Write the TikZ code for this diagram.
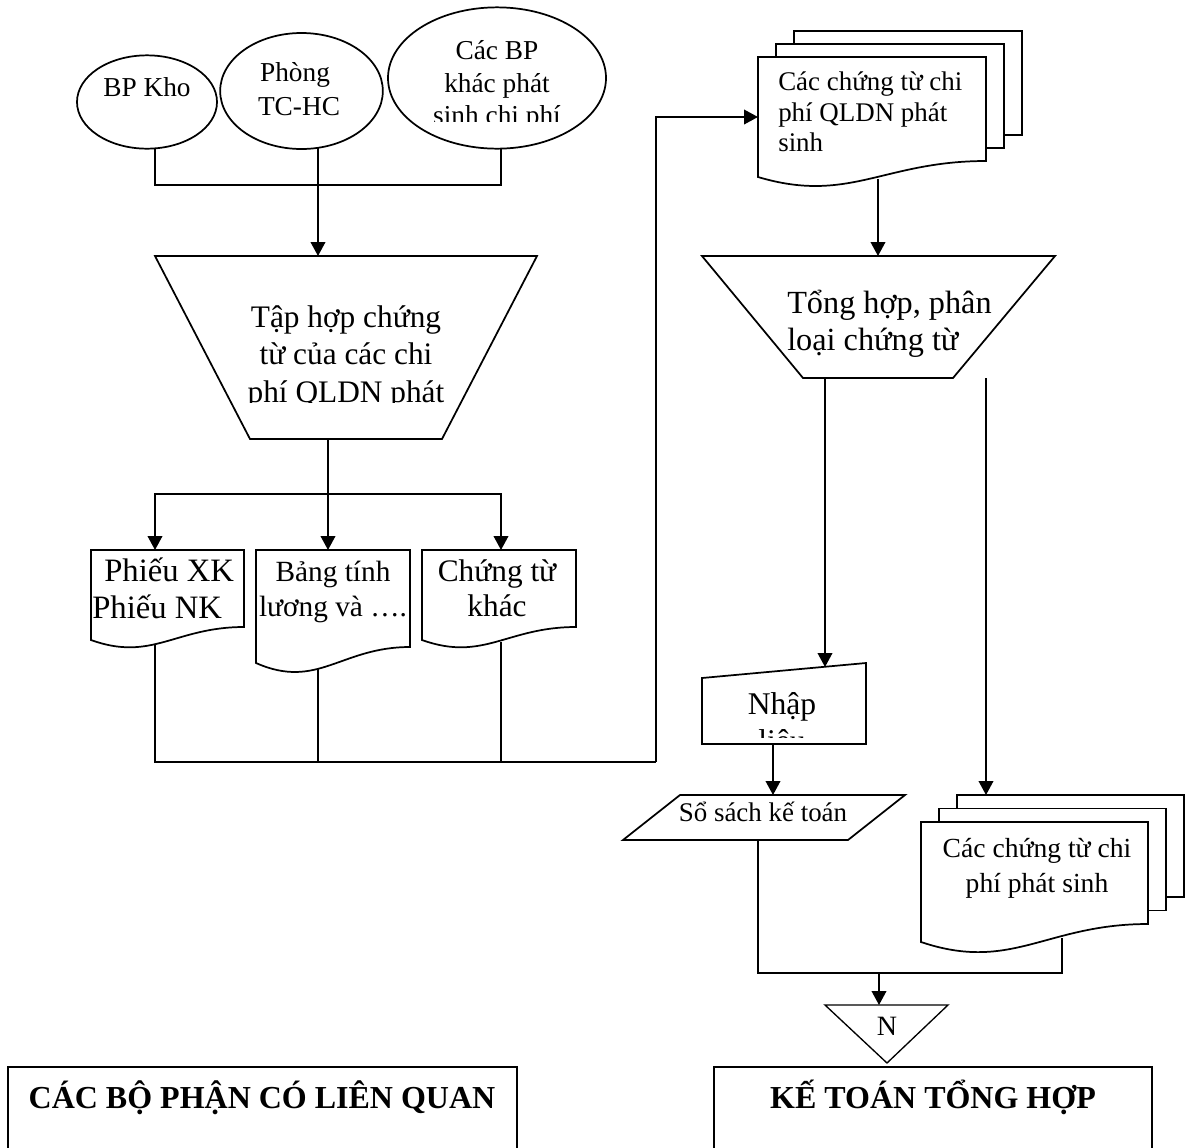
\documentclass[tikz,border=0pt]{standalone}
\usepackage{fontspec}
\setmainfont{Liberation Serif}
\usetikzlibrary{arrows.meta,shapes.geometric}

\newcommand\fsz[1]{\fontsize{#1}{#1}\selectfont}

% document symbol with a wavy lower edge: x1, x2, top, right-bottom y, left-bottom y
\newcommand\docshape[5]{%
  \draw[shapeline] (#1,#3) -- (#2,#3) -- (#2,#4)
    .. controls ({#1+0.55*(#2-#1)},#4) and ({#1+0.4*(#2-#1)},{#5+1.7*(#5-#4)}) ..
    (#1,#5) -- cycle;}
% three stacked sheets: front x1, x2, top, right-bottom y, left-bottom y, offset dx, dy
\newcommand\stackdoc[7]{%
  \draw[shapeline] ({#1+2*#6},{#3-2*#7}) rectangle ({#2+2*#6},{#4-2*#7});
  \draw[shapeline] ({#1+#6},{#3-#7}) rectangle ({#2+#6},{#4-#7});
  \docshape{#1}{#2}{#3}{#4}{#5}}

\tikzset{
  shapeline/.style={draw=black, line width=1.3pt, fill=white, line join=miter},
  thinline/.style={draw=black, line width=1pt},
  dept/.style={ellipse, draw=black, line width=1.3pt, inner sep=0pt},
  link/.style={draw=black, line width=1.3pt},
  arrowlink/.style={link, -{Triangle[length=10.5pt,width=11pt]}},
  txt/.style={inner sep=0pt, anchor=base},
  txtl/.style={inner sep=0pt, anchor=base west},
}

\begin{document}
\begin{tikzpicture}[x=0.75pt,y=-0.75pt]
\useasboundingbox (0,0) rectangle (1189,1147);
\clip (0,0) rectangle (1189,1147);

% ---------- departments ----------
\node[dept, minimum width=105pt, minimum height=70pt] (kho) at (147,102) {};
\node[dept, minimum width=122pt, minimum height=87pt] (phong) at (301.5,91) {};
\node[dept, minimum width=163.5pt, minimum height=106pt] (cacbp) at (497,78) {};

\node[txt, font=\fsz{20.5}] (khoT) at (147,96) {BP Kho};
\node[txt, font=\fsz{20.5}] (phongT1) at (295,81) {Phòng};
\node[txt, font=\fsz{20.5}] (phongT2) at (299,115) {TC-HC};
\node[txt, font=\fsz{20.5}] (cacT1) at (497,59) {Các BP};
\node[txt, font=\fsz{20.5}] (cacT2) at (497,92) {khác phát};
\begin{scope}
  \clip (380,0) rectangle (620,121);
  \node[txt, font=\fsz{20.5}] (cacT3) at (497,124) {sinh chi phí};
\end{scope}

\coordinate (khoS) at (155,149);
\coordinate (phongS) at (318,148);
\coordinate (cacS) at (501,149);
\coordinate (jA) at (318,185);

% ---------- collecting documents ----------
\draw[shapeline] (155,256) -- (537,256) -- (442,439) -- (250,439) -- cycle;
\coordinate (tapT) at (318,256);
\coordinate (tapB) at (328,439);
\node[txt, font=\fsz{23.5}] (tapT1) at (346,327) {Tập hợp chứng};
\node[txt, font=\fsz{23.5}] (tapT2) at (346,364) {từ của các chi};
\begin{scope}
  \clip (200,380) rectangle (500,402);
  \node[txt, font=\fsz{23.5}] (tapT3) at (346,402) {phí QLDN phát};
\end{scope}

\draw[link] (khoS) |- (jA) -| (cacS);
\draw[arrowlink] (phongS) -- (tapT);

% ---------- source documents ----------
\docshape{91}{244}{550}{627}{640}
\docshape{256}{410}{550}{647}{663}
\docshape{422}{576}{550}{627}{640}
\coordinate (d1T) at (155,550);
\coordinate (d2T) at (328,550);
\coordinate (d3T) at (501,550);
\coordinate (d1B) at (155,644);
\coordinate (d2B) at (318,669);
\coordinate (d3B) at (501,642);
\coordinate (jB) at (328,494);

\node[txtl, font=\fsz{24.5}] (d1t1) at (104,581) {Phiếu XK};
\node[txtl, font=\fsz{24.5}] (d1t2) at (92,618) {Phiếu NK};
\node[txt, font=\fsz{22}] (d2t1) at (333,581) {Bảng tính};
\node[txt, font=\fsz{22}] (d2t2) at (333,616) {lương và ….};
\node[txt, font=\fsz{23.5}] (d3t1) at (497,581) {Chứng từ};
\node[txt, font=\fsz{23.5}] (d3t2) at (497,616) {khác};

\draw[arrowlink] (tapB) -- (d2T);
\draw[arrowlink] (jB) -| (d1T);
\draw[arrowlink] (jB) -| (d3T);

% ---------- documents passed to accounting ----------
\stackdoc{758}{986}{57}{161}{177}{18}{13}
\coordinate (s1L) at (758,117);
\coordinate (s1B) at (878,179);
\node[txtl, font=\fsz{20.2}] (s1t1) at (778,90) {Các chứng từ chi};
\node[txtl, font=\fsz{20.2}] (s1t2) at (778,121) {phí QLDN phát};
\node[txtl, font=\fsz{20.2}] (s1t3) at (778,151) {sinh};

\coordinate (jC) at (318,762);
\coordinate (jD) at (656,762);
\draw[link] (d1B) |- (jC) -- (jD);
\draw[arrowlink] (jD) |- (s1L);
\draw[link] (d2B) -- (jC);
\draw[link] (d3B) -- (d3B |- jC);

% ---------- sorting ----------
\draw[shapeline] (702,256) -- (1055,256) -- (953,378) -- (803,378) -- cycle;
\coordinate (t2T) at (878,256);
\coordinate (t2L) at (825,378);
\coordinate (t2R) at (986,378);
\node[txtl, font=\fsz{24.2}] (t2t1) at (787,313) {Tổng hợp, phân};
\node[txtl, font=\fsz{24.2}] (t2t2) at (787,350) {loại chứng từ};
\draw[arrowlink] (s1B) -- (t2T);

% ---------- data entry and ledgers ----------
\draw[shapeline] (702,678) -- (866,663) -- (866,744) -- (702,744) -- cycle;
\coordinate (nhapT) at (825,667);
\coordinate (nhapB) at (773,744);
\node[txt, font=\fsz{23.7}] (nhapT1) at (782,714) {Nhập};
\begin{scope}
  \clip (702,700) rectangle (866,737);
  \node[txt, font=\fsz{23.7}] (nhapT2) at (782,751) {liệu};
\end{scope}

\draw[shapeline] (680,795) -- (905,795) -- (848,840) -- (623,840) -- cycle;
\coordinate (soT) at (773,795);
\coordinate (soB) at (758,840);
\node[txt, font=\fsz{20.2}] (soTx) at (763,821) {Sổ sách kế toán};

\stackdoc{921}{1148}{822}{924}{942}{18}{13.5}
\coordinate (s2T) at (986,795);
\coordinate (s2B) at (1062,938);
\node[txt, font=\fsz{20.7}] (s2t1) at (1037,857) {Các chứng từ chi};
\node[txt, font=\fsz{20.7}] (s2t2) at (1037,892) {phí phát sinh};

\draw[arrowlink] (t2L) -- (nhapT);
\draw[arrowlink] (t2R) -- (s2T);
\draw[arrowlink] (nhapB) -- (soT);

% ---------- filing ----------
\coordinate (jE) at (879,973);
\coordinate (nT) at (879,1005);
\draw[link] (soB) |- (jE) -| (s2B);
\draw[arrowlink] (jE) -- (nT);
\draw[thinline] (825,1005) -- (948,1005) -- (887,1063) -- cycle;
\node[txt, font=\fsz{21}] (nTx) at (887,1035) {N};

% ---------- swimlane headers ----------
\draw[thinline] (8,1067) rectangle (517,1200);
\draw[thinline] (714,1067) rectangle (1152,1200);
\node[txt, font=\fsz{24}\bfseries] (laneL) at (262,1108) {CÁC BỘ PHẬN CÓ LIÊN QUAN};
\node[txt, font=\fsz{24}\bfseries] (laneR) at (933,1108) {KẾ TOÁN TỔNG HỢP};
\end{tikzpicture}
\end{document}
